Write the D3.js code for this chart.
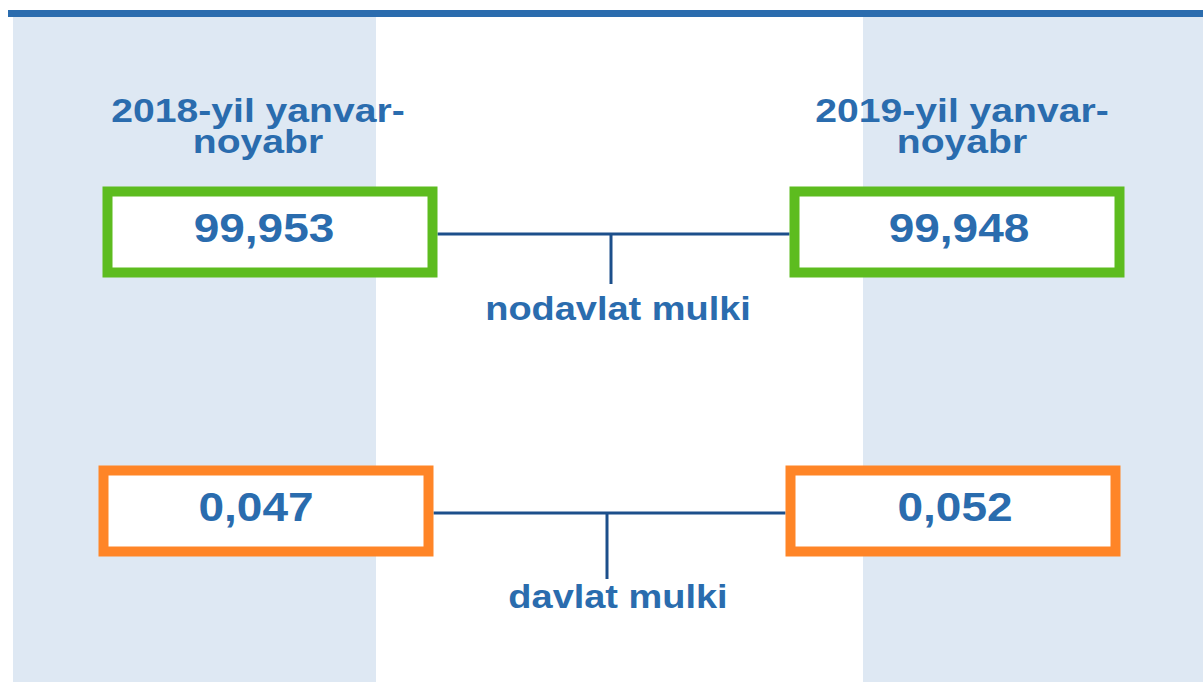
<!DOCTYPE html>
<html>
<head>
<meta charset="utf-8">
<script src="https://cdn.jsdelivr.net/npm/d3@7"></script>
<style>
  html, body { margin: 0; padding: 0; background: #fff; }
  svg { display: block; }
  text { font-family: "Liberation Sans", Arial, sans-serif; font-weight: bold; }
</style>
</head>
<body>
<svg id="chart" width="1203" height="682"></svg>
<script>
// ---- data ----
const periods = ["2018-yil yanvar-noyabr", "2019-yil yanvar-noyabr"];
const categories = ["nodavlat mulki", "davlat mulki"];
const values2018 = [99.953, 0.047];
const values2019 = [99.948, 0.052];
const boxColors = ["#5dbc1f", "#ff8527"];

// ---- layout ----
const W = 1203, H = 682;
const svg = d3.select("#chart");
const textBlue = "#2a6cae";
const lineBlue = "#1c4f8b";
const panelFill = "#dee8f3";
const stretch = 1.15;

const x = d3.scalePoint().domain(periods).range([270, 957]);
const y = d3.scalePoint().domain(categories).range([232, 511]);
const rowShift = [0, -4];

const locale = d3.formatLocale({decimal: ",", thousands: " ", grouping: [3], currency: ["", ""]});
const fmt = locale.format(".3f");

// background panels
const panels = [[13, 376], [863, 1203]];
svg.selectAll("rect.panel").data(panels).join("rect")
  .attr("class", "panel")
  .attr("x", d => d[0]).attr("y", 17)
  .attr("width", d => d[1] - d[0]).attr("height", H - 17)
  .attr("fill", panelFill);

// top rule
svg.append("rect").attr("x", 8).attr("y", 10).attr("width", W - 8).attr("height", 7).attr("fill", "#2b6cae");

// period titles
const titleCenters = [258, 962];
periods.forEach((p, i) => {
  const lines = p.replace("yanvar-", "yanvar-\n").split("\n");
  lines.forEach((l, j) => {
    svg.append("g").attr("transform", `translate(${titleCenters[i]},${122 + j * 31}) scale(${stretch},1)`)
      .append("text").attr("text-anchor", "middle").attr("fill", textBlue).attr("font-size", 34).text(l);
  });
});

// rows
const boxW = 325, boxH = 81;
const series = [values2018, values2019];
const tickBottoms = [284, 579];
const labelBaselines = [320, 608];
const tickX = [611, 607];
const textDx = [[-6, 2], [-10, 2]];

categories.forEach((c, ci) => {
  const cy = y(c);
  const lx = x(periods[0]) + rowShift[ci] + boxW / 2 + 5;
  const rx = x(periods[1]) + rowShift[ci] - boxW / 2 - 5;
  // connector
  svg.append("line").attr("x1", lx).attr("x2", rx).attr("y1", cy + 2).attr("y2", cy + 2)
    .attr("stroke", lineBlue).attr("stroke-width", 3);
  svg.append("line").attr("x1", tickX[ci]).attr("x2", tickX[ci]).attr("y1", cy + 2).attr("y2", tickBottoms[ci])
    .attr("stroke", lineBlue).attr("stroke-width", 3);
  // label
  svg.append("g").attr("transform", `translate(618,${labelBaselines[ci]}) scale(${stretch},1)`)
    .append("text").attr("text-anchor", "middle").attr("fill", textBlue).attr("font-size", 33).text(c);

  // boxes
  periods.forEach((p, pi) => {
    const cx = x(p) + rowShift[ci];
    svg.append("rect")
      .attr("x", cx - boxW / 2).attr("y", cy - boxH / 2)
      .attr("width", boxW).attr("height", boxH)
      .attr("fill", "#fff").attr("stroke", boxColors[ci]).attr("stroke-width", 10);
    svg.append("g").attr("transform", `translate(${cx + textDx[ci][pi]},${cy + 10}) scale(${stretch},1)`)
      .append("text").attr("text-anchor", "middle").attr("fill", textBlue).attr("font-size", 40)
      .text(fmt(series[pi][ci]));
  });
});
</script>
</body>
</html>
